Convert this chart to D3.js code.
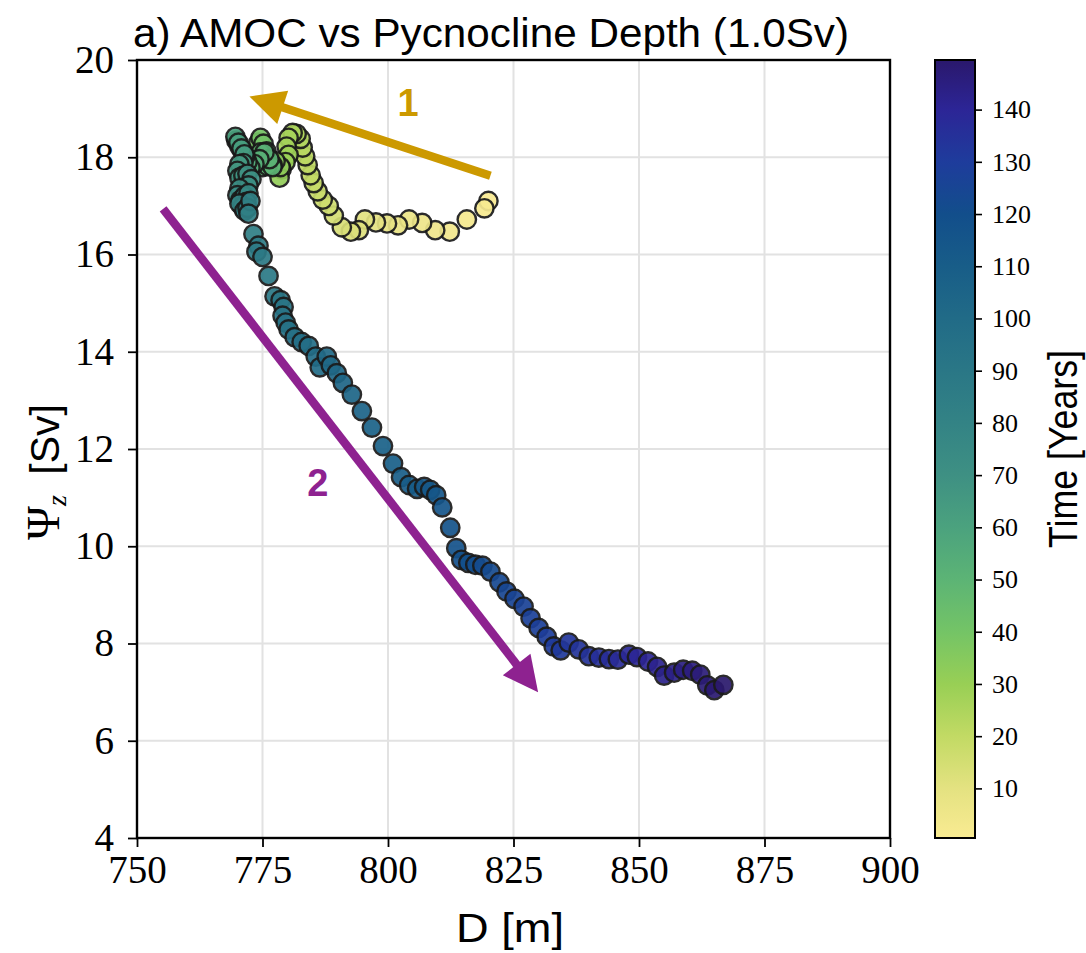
<!DOCTYPE html>
<html>
<head>
<meta charset="utf-8">
<script src="https://cdn.jsdelivr.net/npm/d3@7"></script>
<style>
  body { margin: 0; background: #fff; }
  svg { display: block; }
</style>
</head>
<body>
<svg id="chart" width="1086" height="953"></svg>
<script>
// Pycnocline depth D [m], one annual mean per point, in time order (year 0.5 ... 149.5)
const depthM = [
  820.0, 819.2, 815.7, 812.3, 809.4, 806.8, 804.2, 802.0, 799.8, 797.6,
  795.4, 794.2, 792.6, 790.8, 789.2, 788.2, 787.0, 786.0, 785.2, 784.6,
  784.0, 783.5, 783.0, 782.6, 781.8,
  781.0, 780.2, 779.8, 780.2, 779.6, 778.8, 778.4, 778.6, 777.6, 777.0,
  776.2, 775.6, 774.8,
  774.2, 774.6, 775.2, 775.8, 775.4, 774.6, 773.8, 774.0, 774.6, 775.0,
  776.0, 777.0, 776.4, 775.4, 774.4,
  773.4, 772.6, 772.0, 771.6, 771.0, 770.4, 769.8, 769.6, 770.2, 770.8,
  771.4, 771.2, 770.4, 770.0, 770.4, 771.2, 772.0, 772.8, 772.2, 770.4,
  770.0, 770.6, 771.4, 772.2, 771.8, 771.0, 770.4, 771.4, 772.0, 772.6,
  772.2, 773.2, 774.2, 773.8, 775.0, 776.2, 777.4, 778.6, 779.2, 779.0,
  779.6, 780.2, 781.4, 782.8, 784.2, 785.6, 786.4, 787.8, 788.6, 789.8,
  791.0, 792.8, 794.8, 796.8, 799.0, 801.0, 802.6, 804.2, 805.8, 807.2,
  808.4, 809.6, 810.8, 812.4, 813.6, 814.6, 816.0, 817.4, 818.8, 820.4,
  822.2, 823.6, 825.2, 827.0, 828.4, 830.0, 831.6, 833.0, 834.4, 836.0,
  838.0, 840.0, 842.0, 844.0, 845.8, 848.0, 849.6, 851.8, 853.6, 855.0,
  857.0, 858.8, 860.6, 862.2, 863.6, 865.0, 866.8
];

// Overturning strength Psi_z [Sv], same order as depthM
const psiSv = [
  17.10, 16.95, 16.72, 16.47, 16.50, 16.65, 16.72, 16.60, 16.64, 16.66,
  16.72, 16.50, 16.47, 16.56, 16.80, 17.00, 17.13, 17.30, 17.47, 17.63,
  17.84, 18.02, 18.20, 18.38, 18.48,
  18.50, 18.40, 18.22, 18.05, 17.90, 17.75, 17.58, 17.80, 17.92, 17.85,
  17.92, 18.05, 18.20,
  18.30, 18.40, 18.28, 18.12, 17.95, 17.88, 17.84, 18.02, 18.10, 17.80,
  17.82, 17.80, 17.96, 18.10, 17.96,
  17.86, 17.78, 17.90, 18.02, 18.12, 18.22, 18.34, 18.42, 18.30, 18.18,
  18.06, 17.88, 17.86, 17.72, 17.58, 17.62, 17.66, 17.55, 17.42, 17.36,
  17.22, 17.12, 17.20, 17.26, 17.08, 16.98, 17.05, 16.90, 16.96, 17.10,
  16.84, 16.42, 16.18, 16.06, 15.95, 15.56, 15.14, 15.06, 14.92, 14.74,
  14.60, 14.46, 14.30, 14.20, 14.12, 13.90, 13.68, 13.90, 13.72, 13.56,
  13.36, 13.12, 12.78, 12.44, 12.06, 11.70, 11.42, 11.26, 11.18, 11.22,
  11.16, 11.05, 10.80, 10.38, 9.96, 9.72, 9.66, 9.62, 9.60, 9.48,
  9.26, 9.07, 8.92, 8.76, 8.52, 8.32, 8.14, 7.94, 7.86, 8.02,
  7.88, 7.74, 7.71, 7.68, 7.67, 7.77, 7.72, 7.63, 7.52, 7.34,
  7.40, 7.46, 7.44, 7.36, 7.14, 7.04, 7.15
];

// Axis ticks
const xTicks = [750, 775, 800, 825, 850, 875, 900];
const yTicks = [4, 6, 8, 10, 12, 14, 16, 18, 20];
const cbarTicks = [10, 20, 30, 40, 50, 60, 70, 80, 90, 100, 110, 120, 130, 140];

// Colour map for time (light yellow -> green -> teal -> blue -> deep violet)
const cmapYears = [0.5, 10, 20, 30, 40, 50, 60, 70, 80, 90, 100, 110, 120, 130, 140, 149.5];
const cmapColors = ["#f9eb92", "#e4e281", "#c2da64", "#98cf55", "#74c466", "#5cb475",
                    "#4ba27e", "#3e9083", "#338385", "#2a7786", "#216b87", "#185d88",
                    "#124e8b", "#1e3c9c", "#2c2596", "#2a186c"];

// Direction arrows (data coordinates) and their labels
const arrowPhases = ["1", "2"];
const arrowFrom = [[820.4, 17.62], [755.2, 16.94]];
const arrowTo = [[772.4, 19.25], [829.9, 7.00]];
const arrowColors = ["#cc9900", "#8e2290"];
const labelAt = [[804.0, 19.12], [786.0, 11.30]];

const svg = d3.select("#chart");
const m = { left: 137, right: 890, top: 60, bottom: 838 };
const serif = "'Liberation Serif', 'DejaVu Serif', serif";
const sans = "'Liberation Sans', 'DejaVu Sans', sans-serif";

const x = d3.scaleLinear().domain([750, 900]).range([m.left, m.right]);
const y = d3.scaleLinear().domain([4, 20]).range([m.bottom, m.top]);
const color = d3.scaleLinear().domain(cmapYears).range(cmapColors).interpolate(d3.interpolateRgb);

// Grid
const grid = svg.append("g").attr("stroke", "#e2e2e2").attr("stroke-width", 2);
grid.selectAll(".gx").data(xTicks.slice(1, -1)).join("line")
  .attr("x1", d => x(d)).attr("x2", d => x(d)).attr("y1", m.top).attr("y2", m.bottom);
grid.selectAll(".gy").data(yTicks.slice(1, -1)).join("line")
  .attr("y1", d => y(d)).attr("y2", d => y(d)).attr("x1", m.left).attr("x2", m.right);

// Scatter points, drawn in time order so later years sit on top
const points = depthM.map((d, i) => ({ d, p: psiSv[i], year: i + 0.5 }));
svg.append("g").selectAll("circle").data(points).join("circle")
  .attr("cx", v => x(v.d))
  .attr("cy", v => y(v.p))
  .attr("r", 9.2)
  .attr("fill", v => color(v.year))
  .attr("stroke", "#1a1a1a")
  .attr("stroke-width", 2.4)
  .attr("opacity", 0.92);

// Arrows
const arrows = svg.append("g");
arrowFrom.forEach((from, i) => {
  const x0 = x(from[0]), y0 = y(from[1]);
  const x1 = x(arrowTo[i][0]), y1 = y(arrowTo[i][1]);
  const len = Math.hypot(x1 - x0, y1 - y0);
  const ux = (x1 - x0) / len, uy = (y1 - y0) / len;
  const headL = 35, headW = 17.5;
  const bx = x1 - ux * headL, by = y1 - uy * headL;
  arrows.append("line")
    .attr("x1", x0).attr("y1", y0).attr("x2", bx + ux * 2).attr("y2", by + uy * 2)
    .attr("stroke", arrowColors[i]).attr("stroke-width", 8.5);
  arrows.append("path")
    .attr("d", `M${x1},${y1}L${bx - uy * headW},${by + ux * headW}L${bx + uy * headW},${by - ux * headW}Z`)
    .attr("fill", arrowColors[i]);
  arrows.append("text")
    .attr("x", x(labelAt[i][0])).attr("y", y(labelAt[i][1]))
    .attr("text-anchor", "middle").attr("dominant-baseline", "central")
    .attr("font-family", sans).attr("font-weight", "bold").attr("font-size", 38)
    .attr("fill", arrowColors[i])
    .text(arrowPhases[i]);
});

// Frame
svg.append("rect")
  .attr("x", m.left).attr("y", m.top)
  .attr("width", m.right - m.left).attr("height", m.bottom - m.top)
  .attr("fill", "none").attr("stroke", "#000").attr("stroke-width", 2.4);

// Axes
const xAxis = svg.append("g").attr("transform", `translate(0,${m.bottom})`)
  .call(d3.axisBottom(x).tickValues(xTicks).tickSize(9).tickPadding(8).tickFormat(d3.format("d")));
const yAxis = svg.append("g").attr("transform", `translate(${m.left},0)`)
  .call(d3.axisLeft(y).tickValues(yTicks).tickSize(9).tickPadding(14).tickFormat(d3.format("d")));
[xAxis, yAxis].forEach(g => {
  g.select(".domain").remove();
  g.selectAll(".tick line").attr("stroke", "#000").attr("stroke-width", 1.8);
  g.selectAll(".tick text").attr("font-family", serif).attr("font-size", 39).attr("fill", "#000");
});

// Axis titles
svg.append("text")
  .attr("x", 133).attr("y", 47)
  .attr("font-family", sans).attr("font-size", 41)
  .attr("textLength", 716).attr("lengthAdjust", "spacingAndGlyphs")
  .text("a) AMOC vs Pycnocline Depth (1.0Sv)");

svg.append("text")
  .attr("x", 510).attr("y", 942).attr("text-anchor", "middle")
  .attr("font-family", sans).attr("font-size", 41)
  .attr("textLength", 108).attr("lengthAdjust", "spacingAndGlyphs")
  .text("D [m]");

const yl = svg.append("text")
  .attr("transform", "translate(59,472) rotate(-90)")
  .attr("text-anchor", "middle")
  .attr("font-size", 41);
yl.append("tspan").attr("font-family", serif).attr("font-size", 46).text("Ψ");
yl.append("tspan").attr("font-family", serif).attr("font-style", "italic").attr("font-size", 28).attr("dy", 7).text("z");
yl.append("tspan").attr("font-family", sans).attr("dy", -7).text("\u2002[Sv]");

// Colour bar
const cb = { x: 935, w: 40, top: m.top, bottom: m.bottom };
const cy = d3.scaleLinear().domain([0.5, 149.5]).range([cb.bottom, cb.top]);
const grad = svg.append("defs").append("linearGradient")
  .attr("id", "timeGrad").attr("x1", 0).attr("y1", 1).attr("x2", 0).attr("y2", 0);
grad.selectAll("stop").data(cmapYears).join("stop")
  .attr("offset", d => (d - 0.5) / 149)
  .attr("stop-color", d => color(d));
svg.append("rect")
  .attr("x", cb.x).attr("y", cb.top).attr("width", cb.w).attr("height", cb.bottom - cb.top)
  .attr("fill", "url(#timeGrad)").attr("stroke", "#000").attr("stroke-width", 2);
const cAxis = svg.append("g").attr("transform", `translate(${cb.x + cb.w},0)`)
  .call(d3.axisRight(cy).tickValues(cbarTicks).tickSize(7).tickPadding(10).tickFormat(d3.format("d")));
cAxis.select(".domain").remove();
cAxis.selectAll(".tick line").attr("stroke", "#000").attr("stroke-width", 1.6);
cAxis.selectAll(".tick text").attr("font-family", serif).attr("font-size", 26).attr("fill", "#000");

svg.append("text")
  .attr("transform", "translate(1077,449) rotate(-90)")
  .attr("text-anchor", "middle")
  .attr("font-family", sans).attr("font-size", 40)
  .attr("textLength", 198).attr("lengthAdjust", "spacingAndGlyphs")
  .text("Time [Years]");
</script>
</body>
</html>
